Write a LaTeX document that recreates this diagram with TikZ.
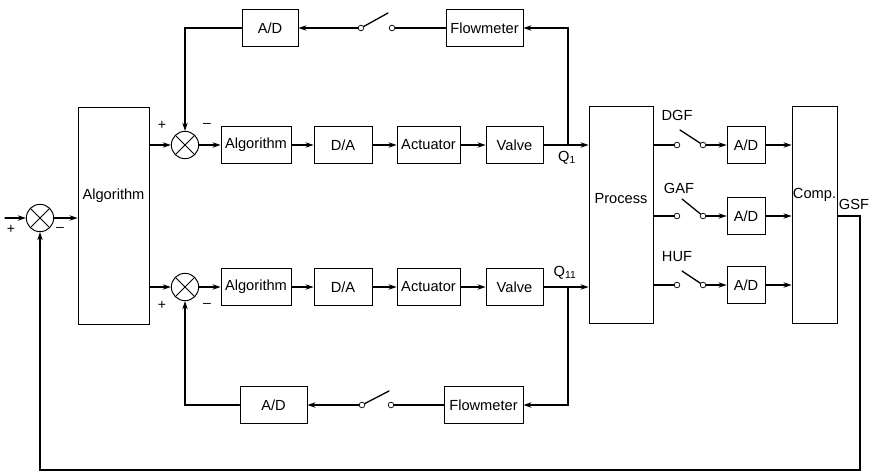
\documentclass[tikz,border=0pt]{standalone}
\usepackage{fontspec}
\setmainfont{Liberation Sans}
\usetikzlibrary{arrows.meta}

\tikzset{
  blk/.style={draw,line width=0.8pt,inner sep=0pt,minimum height=1.1cm},
  tallblk/.style={draw,line width=0.8pt,inner sep=0pt,minimum height=6.5cm},
  sumnode/.style={draw,circle,line width=0.8pt,minimum size=0.82cm,inner sep=0pt,
    path picture={\draw[line width=0.8pt] (path picture bounding box.north west) -- (path picture bounding box.south east)
      (path picture bounding box.north east) -- (path picture bounding box.south west);}},
  contact/.style={draw,circle,fill=white,line width=0.6pt,minimum size=0.17cm,inner sep=0pt},
  sig/.style={line width=1.1pt},
  sgn/.style={inner sep=0pt,font=\fontsize{12}{14}\selectfont},
}

\begin{document}
\begin{tikzpicture}[x=0.03cm,y=-0.03cm,>={Stealth[length=2.4mm,width=1.6mm]},font=\fontsize{12.5}{15}\selectfont,line cap=round]
\useasboundingbox (0,0) rectangle (871,473);
% outer loop
\coordinate (in0) at (5,218);
\node[sumnode] (sum0) at (40,218) {};
\node[sgn] (p0) at (11,229) {+};
\node[sgn] (m0) at (60,229) {--};
\node[tallblk,minimum width=2.13cm,label={[name=algoT,yshift=0.6cm]center:Algorithm}] (algo) at (113.5,216) {};
\draw[sig,->] (in0) -- (sum0);
\draw[sig,->] (sum0) -- (sum0 -| algo.west);

% upper flow loop
\node[sumnode] (sumA) at (185,145) {};
\node[sgn] (pA) at (162,125) {+};
\node[sgn] (mA) at (207,125) {--};
\node[blk,minimum width=2.1cm] (algA) at (256,145) {Algorithm};
\node[blk,minimum width=1.74cm] (daA) at (343,145) {D/A};
\node[blk,minimum width=1.89cm] (actA) at (428.5,145) {Actuator};
\node[blk,minimum width=1.71cm] (valA) at (514.5,145) {Valve};
\node[blk,minimum width=1.68cm] (adA) at (270,28) {A/D};
\node[blk,minimum width=2.31cm] (flowA) at (484.5,28) {Flowmeter};
\node[contact] (swAl) at (361,28) {};
\node[contact] (swAr) at (392,28) {};
\coordinate (levA) at (388,13);
\coordinate (brA) at (568,145);
\node (q1) at (567,158) {Q\textsubscript{1}};
\draw[sig,->] (algo.east |- sumA) -- (sumA);
\draw[sig,->] (sumA) -- (algA);
\draw[sig,->] (algA) -- (daA);
\draw[sig,->] (daA) -- (actA);
\draw[sig,->] (actA) -- (valA);
\draw[sig,->] (brA) |- (flowA);
\draw[sig] (flowA) -- (swAr);
\draw[sig] (swAl) -- (levA);
\draw[sig,->] (swAl) -- (adA);
\draw[sig,->] (adA) -| (sumA);

% lower flow loop
\node[sumnode] (sumB) at (185,287) {};
\node[sgn] (pB) at (162,305) {+};
\node[sgn] (mB) at (207,305) {--};
\node[blk,minimum width=2.1cm] (algB) at (256,287) {Algorithm};
\node[blk,minimum width=1.74cm] (daB) at (343,287) {D/A};
\node[blk,minimum width=1.89cm] (actB) at (428.5,287) {Actuator};
\node[blk,minimum width=1.71cm] (valB) at (514.5,287) {Valve};
\node[blk,minimum width=2.01cm] (adB) at (273.5,405) {A/D};
\node[blk,minimum width=2.37cm] (flowB) at (483.5,405) {Flowmeter};
\node[contact] (swBl) at (362,405) {};
\node[contact] (swBr) at (391,405) {};
\coordinate (levB) at (389,391);
\coordinate (brB) at (568,287);
\node (q11) at (565,273) {Q\textsubscript{11}};
\draw[sig,->] (algo.east |- sumB) -- (sumB);
\draw[sig,->] (sumB) -- (algB);
\draw[sig,->] (algB) -- (daB);
\draw[sig,->] (daB) -- (actB);
\draw[sig,->] (actB) -- (valB);
\draw[sig,->] (brB) |- (flowB);
\draw[sig] (flowB) -- (swBr);
\draw[sig] (swBl) -- (levB);
\draw[sig,->] (swBl) -- (adB);
\draw[sig,->] (adB) -| (sumB);

% process and measurements
\node[tallblk,minimum width=1.92cm,label={[name=procT,yshift=0.48cm]center:Process}] (proc) at (621,215) {};
\node[tallblk,minimum width=1.35cm,label={[name=compT,yshift=0.6cm]center:Comp.}] (comp) at (814.5,215) {};
\draw[sig,->] (valA) -- (valA -| proc.west);
\draw[sig,->] (valB) -- (valB -| proc.west);

\node[blk,minimum width=1.14cm] (ad1) at (746,145) {A/D};
\node[blk,minimum width=1.14cm] (ad2) at (746,216) {A/D};
\node[blk,minimum width=1.14cm] (ad3) at (746,285) {A/D};
\node[contact] (s1l) at (677,145) {};
\node[contact] (s1r) at (703,145) {};
\node[contact] (s2l) at (677,216) {};
\node[contact] (s2r) at (703,216) {};
\node[contact] (s3l) at (677,285) {};
\node[contact] (s3r) at (703,285) {};
\coordinate (lev1) at (680,130);
\coordinate (lev2) at (682,199);
\coordinate (lev3) at (682,271);
\node (dgf) at (677,115) {DGF};
\node (gaf) at (679,188) {GAF};
\node (huf) at (677,257) {HUF};
\draw[sig] (proc.east |- s1l) -- (s1l);
\draw[sig] (proc.east |- s2l) -- (s2l);
\draw[sig] (proc.east |- s3l) -- (s3l);
\draw[sig] (s1r) -- (lev1);
\draw[sig] (s2r) -- (lev2);
\draw[sig] (s3r) -- (lev3);
\draw[sig,->] (s1r) -- (ad1);
\draw[sig,->] (s2r) -- (ad2);
\draw[sig,->] (s3r) -- (ad3);
\draw[sig,->] (ad1) -- (ad1 -| comp.west);
\draw[sig,->] (ad2) -- (ad2 -| comp.west);
\draw[sig,->] (ad3) -- (ad3 -| comp.west);

% set point feedback
\node (gsf) at (854,204) {GSF};
\coordinate (ret) at (860,470);
\draw[sig,->] (comp.east |- ad2) -| (ret) -| (sum0);
\end{tikzpicture}
\end{document}
